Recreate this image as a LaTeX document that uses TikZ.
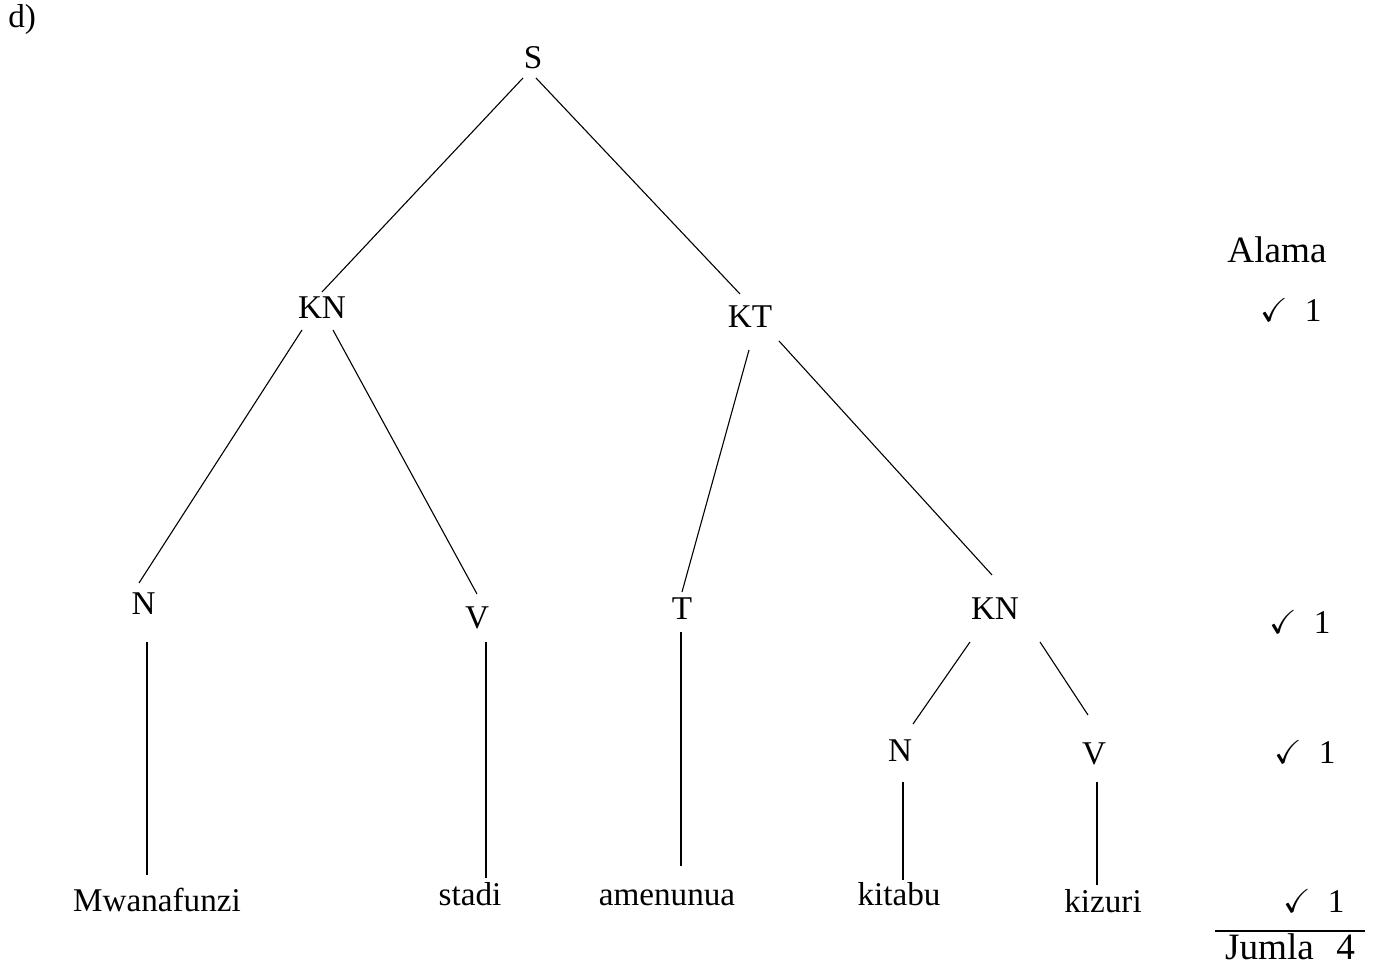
\documentclass[tikz,border=0pt]{standalone}
\usepackage{amssymb}
\usepackage{fontspec}
\setmainfont{Liberation Serif}
\usetikzlibrary{calc}
\tikzset{x=0.5pt, y=-0.5pt,
  tree label/.style={anchor=base, inner sep=0pt, font=\fontsize{16.6}{20}\selectfont},
  mark label/.style={tree label, font=\fontsize{18.6}{22}\selectfont},
  tree line/.style={draw=black, line width=0.55pt},
  mark total/.style={draw=black, line width=1pt}
}
\def\Branch#1#2#3#4{%
  \draw[tree line] ([shift={#2}]#1.base) -- ([shift={#4}]#3.base);
}
\def\Mark#1#2#3{%
  \node[tree label] (#1) at (#2,#3) {$\checkmark$\hspace{0.5em}1};
}

\begin{document}
\begin{tikzpicture}
\useasboundingbox (0,0) rectangle (1373,977);
\node[tree label, anchor=base west] (part) at (8,28) {d)};
% categories
\node[tree label] (s) at (533,69) {S};
\node[tree label] (kna) at (322,319) {KN};
\node[tree label] (kt) at (750,328) {KT};
\node[tree label] (na) at (143.5,615) {N};
\node[tree label] (va) at (477,629) {V};
\node[tree label] (t) at (682,620) {T};
\node[tree label] (knb) at (995,620) {KN};
\node[tree label] (nb) at (900,762) {N};
\node[tree label] (vb) at (1094,765) {V};
% words
\node[tree label] (mwanafunzi) at (157,912) {Mwanafunzi};
\node[tree label] (stadi) at (470,906) {stadi};
\node[tree label] (amenunua) at (667,906) {amenunua};
\node[tree label] (kitabu) at (899,906) {kitabu};
\node[tree label] (kizuri) at (1103,913) {kizuri};
\Branch{s}{(-10,9)}{kna}{(0,-27)}
\Branch{s}{(3,9)}{kt}{(-10,-34)}
\Branch{kna}{(-20,11)}{na}{(-4.5,-32)}
\Branch{kna}{(11,11)}{va}{(0,-35)}
\Branch{kt}{(-1,22)}{t}{(0,-28)}
\Branch{kt}{(29,13)}{knb}{(-3,-45)}
\Branch{knb}{(-25,22)}{nb}{(13,-38)}
\Branch{knb}{(45,22)}{vb}{(-6,-50)}
\Branch{na}{(3.5,27)}{mwanafunzi}{(-10,-37)}
\Branch{va}{(9,13)}{stadi}{(16,-28)}
\Branch{t}{(-1,12)}{amenunua}{(14,-40)}
\Branch{nb}{(3,20)}{kitabu}{(4,-26)}
\Branch{vb}{(3,17)}{kizuri}{(-6,-28)}
% marks
\node[mark label] (alama) at (1277,263) {Alama};
\Mark{marka}{1291}{322}
\Mark{markb}{1300}{634}
\Mark{markc}{1305}{764}
\Mark{markd}{1314}{913}
\draw[mark total] (1215,931) -- (1365,931);
\node[mark label] (jumla) at (1290,960) {Jumla\hspace{0.6em}4};
\end{tikzpicture}
\end{document}
